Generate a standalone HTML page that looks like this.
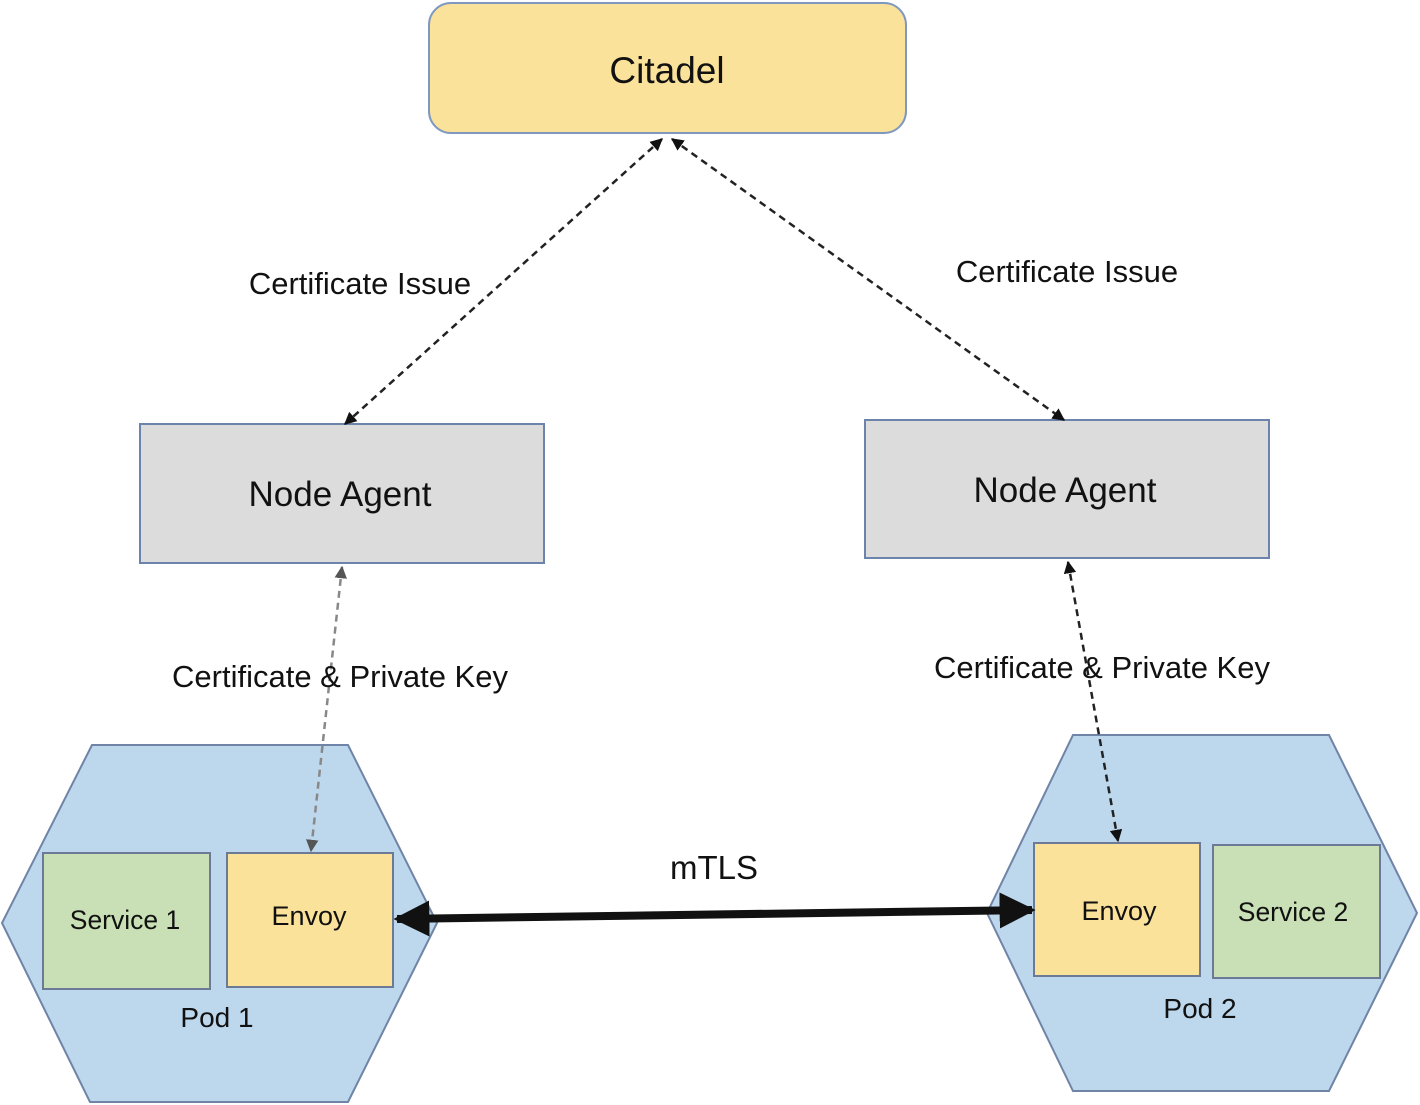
<!DOCTYPE html>
<html><head><meta charset="utf-8"><style>
html,body{margin:0;padding:0;background:#fff;}
svg{display:block;font-family:"Liberation Sans",Arial,sans-serif;}
</style></head><body>
<svg width="1420" height="1105" viewBox="0 0 1420 1105" xmlns="http://www.w3.org/2000/svg">
<defs>
<marker id="ah" viewBox="0 0 10 10" refX="9" refY="5" markerWidth="5" markerHeight="5" orient="auto-start-reverse"><path d="M0,0 L10,5 L0,10 z" fill="#111"/></marker>
<marker id="ahg" viewBox="0 0 10 10" refX="9" refY="5" markerWidth="5" markerHeight="5" orient="auto-start-reverse"><path d="M0,0 L10,5 L0,10 z" fill="#555"/></marker>
<marker id="big" viewBox="0 0 10 10" refX="9" refY="5" markerWidth="4.5" markerHeight="4.5" orient="auto-start-reverse"><path d="M0,0 L10,5 L0,10 z" fill="#111"/></marker>
</defs>
<rect x="429" y="3" width="477" height="130" rx="22" fill="#fbe29b" stroke="#7f98c0" stroke-width="2"/>
<text x="667" y="83" font-size="37" text-anchor="middle" fill="#111">Citadel</text>
<rect x="140" y="424" width="404" height="139" fill="#dcdcdc" stroke="#6c84ac" stroke-width="2"/>
<text x="340" y="506" font-size="35" text-anchor="middle" fill="#111">Node Agent</text>
<rect x="865" y="420" width="404" height="138" fill="#dcdcdc" stroke="#6c84ac" stroke-width="2"/>
<text x="1065" y="502" font-size="35" text-anchor="middle" fill="#111">Node Agent</text>
<polygon points="92,745 348,745 437,923 348,1102 90,1102 2,923" fill="#bdd7ec" stroke="#6f84a6" stroke-width="2"/>
<polygon points="1073,735 1329,735 1417,913 1329,1091 1073,1091 987,913" fill="#bdd7ec" stroke="#6f84a6" stroke-width="2"/>
<rect x="43" y="853" width="167" height="136" fill="#c9e0b6" stroke="#6c7a98" stroke-width="2"/>
<text x="125" y="929" font-size="26.5" text-anchor="middle" fill="#111">Service 1</text>
<rect x="227" y="853" width="166" height="134" fill="#fbe29b" stroke="#6c7a98" stroke-width="2"/>
<text x="309" y="925" font-size="27" text-anchor="middle" fill="#111">Envoy</text>
<text x="217" y="1027" font-size="28" text-anchor="middle" fill="#111">Pod 1</text>
<rect x="1034" y="843" width="166" height="133" fill="#fbe29b" stroke="#6c7a98" stroke-width="2"/>
<text x="1119" y="920" font-size="27" text-anchor="middle" fill="#111">Envoy</text>
<rect x="1213" y="845" width="167" height="133" fill="#c9e0b6" stroke="#6c7a98" stroke-width="2"/>
<text x="1293" y="921" font-size="26.5" text-anchor="middle" fill="#111">Service 2</text>
<text x="1200" y="1018" font-size="28" text-anchor="middle" fill="#111">Pod 2</text>
<line x1="662" y1="139" x2="345" y2="424" stroke="#222" stroke-width="2.5" stroke-dasharray="7,5" marker-start="url(#ah)" marker-end="url(#ah)"/>
<line x1="672" y1="139" x2="1064" y2="420" stroke="#222" stroke-width="2.5" stroke-dasharray="7,5" marker-start="url(#ah)" marker-end="url(#ah)"/>
<line x1="342" y1="567" x2="311" y2="851" stroke="#888" stroke-width="2.5" stroke-dasharray="7,5" marker-start="url(#ahg)" marker-end="url(#ahg)"/>
<line x1="1068" y1="562" x2="1118" y2="841" stroke="#222" stroke-width="2.5" stroke-dasharray="7,5" marker-start="url(#ah)" marker-end="url(#ah)"/>
<line x1="397" y1="919" x2="1032" y2="910" stroke="#111" stroke-width="8" marker-start="url(#big)" marker-end="url(#big)"/>
<text x="714" y="879" font-size="33" text-anchor="middle" fill="#111">mTLS</text>
<text x="360" y="294" font-size="31" text-anchor="middle" fill="#111">Certificate Issue</text>
<text x="1067" y="282" font-size="31" text-anchor="middle" fill="#111">Certificate Issue</text>
<text x="340" y="687" font-size="31" text-anchor="middle" fill="#111">Certificate &amp; Private Key</text>
<text x="1102" y="678" font-size="31" text-anchor="middle" fill="#111">Certificate &amp; Private Key</text>
</svg>
</body></html>
